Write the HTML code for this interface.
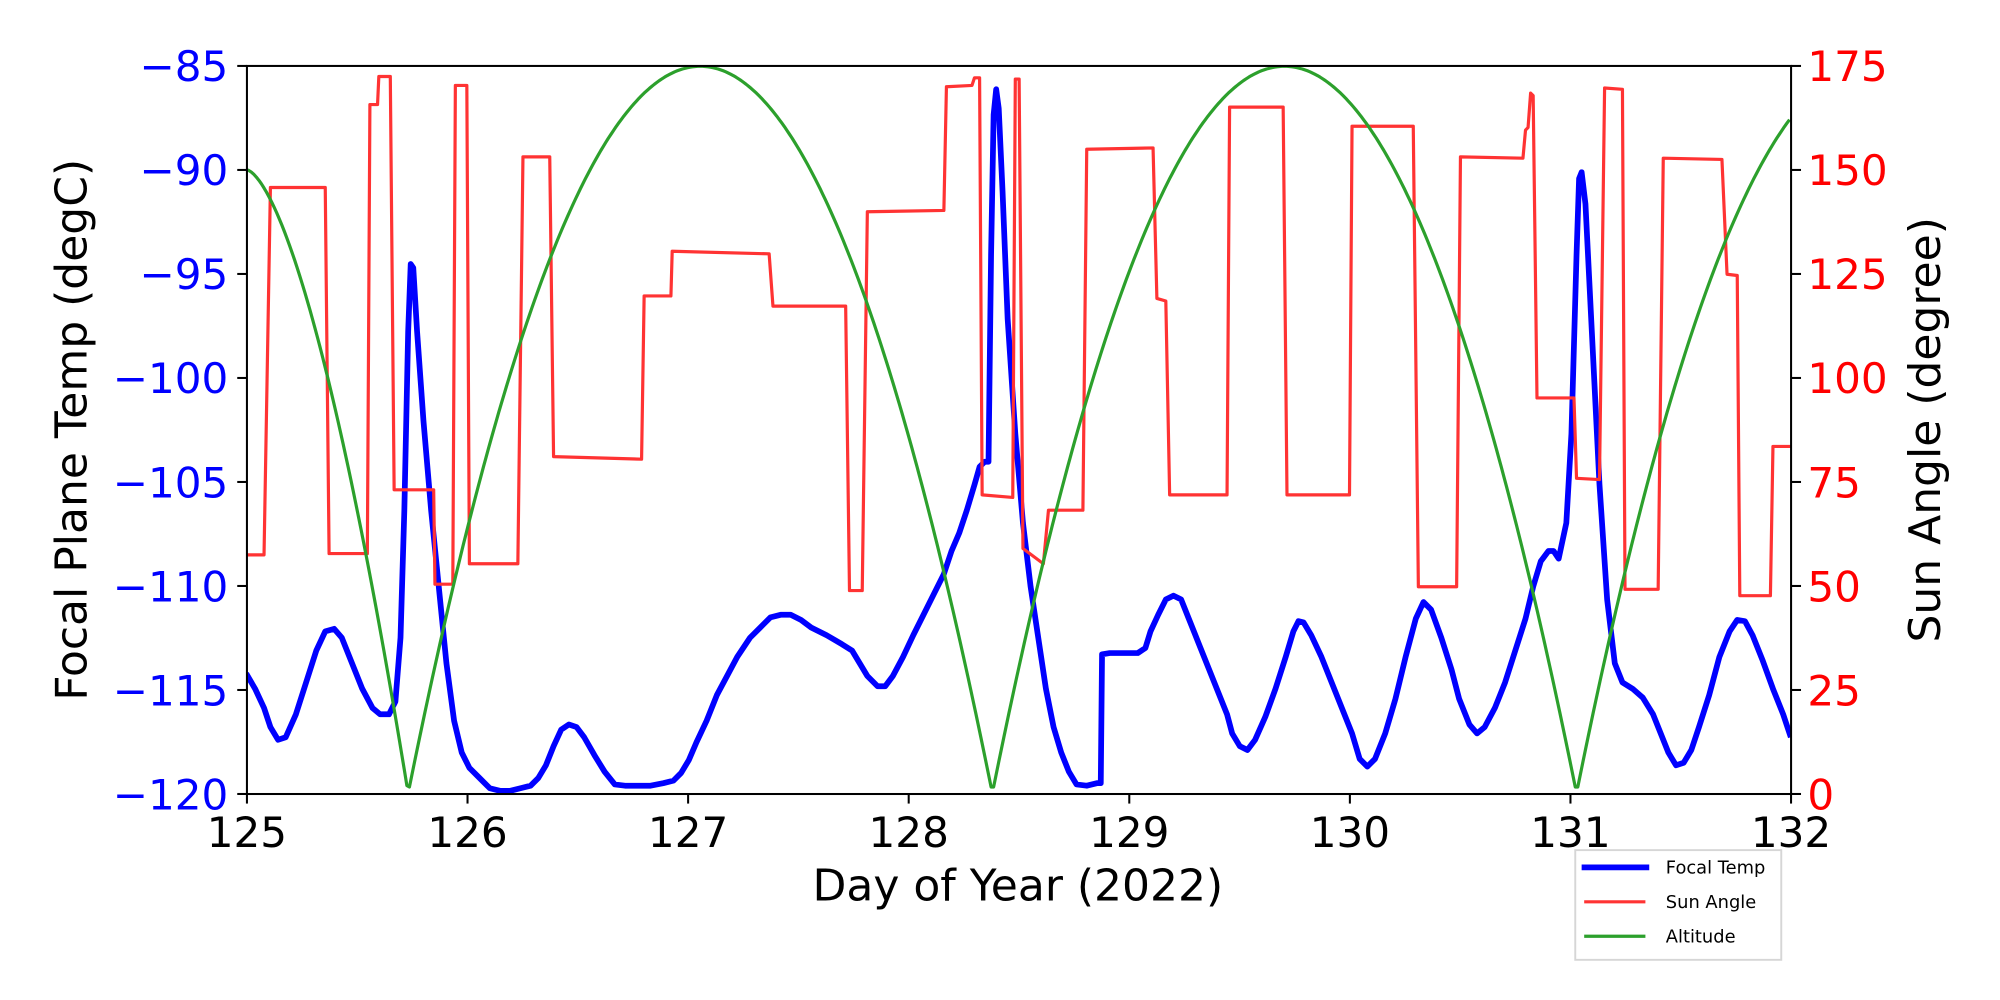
<!DOCTYPE html>
<html><head><meta charset="utf-8"><style>html,body{margin:0;padding:0;background:#fff}svg{display:block}</style></head>
<body>
<svg id="s" width="2000" height="1000" viewBox="0 0 1568 784" xmlns="http://www.w3.org/2000/svg" font-family="DejaVu Sans, Liberation Sans, sans-serif">
<defs><clipPath id="c"><rect x="193.6" y="51.7" width="1210.6" height="570.8"/></clipPath></defs>
<g clip-path="url(#c)" fill="none" stroke-linejoin="round">
<polyline stroke="#0000ff" stroke-width="4.5" points="193,528 200,540 207,555 212,570 218,580 224,578 232,560 240,535 248,510 255,495 262,493 268,500 276,520 284,540 292,555 298,560 305,560 310,550 314,500 317,400 320,260 322,207 324,210 327,260 332,330 338,400 344,460 350,520 356,565 362,590 368,602 376,610 384,618 392,620 400,620 408,618 416,616 422,610 428,600 434,585 440,572 446,568 452,570 458,578 466,592 474,605 482,615 490,616 500,616 510,616 520,614 528,612 534,606 540,596 546,582 554,565 562,545 570,530 578,515 588,500 598,490 604,484 612,482 620,482 628,486 636,492 648,498 660,505 668,510 674,520 680,530 688,538 694,538 700,530 708,515 716,498 724,482 732,466 740,450 746,432 752,418 758,400 764,380 768,366 772,362 775,362 777,200 779,90 781,70 783,85 786,150 790,250 796,340 802,410 808,460 814,500 820,540 826,570 832,590 838,605 844,615 852,616 860,614 863,614 864,513 870,512 880,512 892,512 898,508 902,495 908,482 914,470 920,467 926,470 932,485 940,505 948,525 956,545 962,560 966,575 972,585 978,588 984,580 992,562 1000,540 1008,515 1014,495 1018,487 1022,488 1028,498 1036,515 1044,535 1052,555 1060,575 1066,595 1072,601 1078,595 1086,575 1094,548 1102,515 1110,485 1116,472 1122,478 1130,500 1138,525 1144,548 1152,568 1158,575 1164,570 1172,555 1180,535 1188,510 1196,485 1202,460 1208,440 1214,432 1218,432 1222,438 1228,410 1232,340 1236,200 1238,140 1240,135 1243,160 1248,260 1254,380 1260,470 1266,520 1272,535 1280,540 1288,547 1296,560 1302,575 1308,590 1314,600 1320,598 1326,588 1332,570 1340,545 1348,515 1356,495 1362,486 1368,487 1374,498 1382,518 1390,540 1398,560 1404,578"/>
<polyline stroke="#ff3333" stroke-width="2.5" points="193,435 207,435 212,147 255,147 258,434 288,434 290,82 296,82 297,60 306,60 309,384 340,384 341,458 355,458 357,67 366,67 368,442 406,442 410,123 431,123 434,358 503,360 505,232 526,232 527,197 603,199 606,240 663,240 666,463 676,463 680,166 740,165 742,68 762,67 764,61 768,61 770,388 794,390 796,62 799,62 802,430 818,442 822,400 849,400 852,117 904,116 907,234 914,236 917,388 962,388 964,84 1006,84 1009,388 1058,388 1060,99 1108,99 1112,460 1142,460 1145,123 1194,124 1196,102 1198,100 1200,73 1202,75 1205,312 1234,312 1236,375 1254,376 1258,69 1272,70 1274,462 1300,462 1304,124 1350,125 1354,215 1362,216 1364,467 1388,467 1390,350 1404,350"/>
<polyline id="g" stroke="#2ca02c" stroke-width="2.5" points=""/>
</g>
<rect x="193.6" y="51.7" width="1210.6" height="570.8" fill="none" stroke="#000" stroke-width="1.6"/>
<g id="ticks" stroke="#000" stroke-width="1.6"></g>
<g id="lab" font-size="33"></g>
<text x="798" y="706" font-size="34.5" text-anchor="middle">Day of Year (2022)</text>
<text transform="translate(68,337) rotate(-90)" font-size="34.5" text-anchor="middle">Focal Plane Temp (degC)</text>
<text transform="translate(1521,337) rotate(-90)" font-size="34.5" text-anchor="middle">Sun Angle (degree)</text>
<rect x="1235" y="666.5" width="161.5" height="86" fill="#fff" stroke="#d6d6d6" stroke-width="1.5"/>
<line x1="1240" y1="680" x2="1293" y2="680" stroke="#0000ff" stroke-width="4.5"/>
<line x1="1242" y1="707" x2="1290" y2="707" stroke="#ff3333" stroke-width="2.5"/>
<line x1="1242" y1="734" x2="1290" y2="734" stroke="#2ca02c" stroke-width="2.5"/>
<text x="1306" y="685" font-size="14">Focal Temp</text>
<text x="1306" y="712" font-size="14">Sun Angle</text>
<text x="1306" y="739" font-size="14">Altitude</text>
</svg>
<script>
var ns="http://www.w3.org/2000/svg";
function el(p,t,a,txt){var e=document.createElementNS(ns,t);for(var k in a)e.setAttribute(k,a[k]);if(txt!=null)e.textContent=txt;p.appendChild(e);}
var T=document.getElementById('ticks'),L=document.getElementById('lab');
for(var d=125;d<=132;d++){var x=193.6+(d-125)*172.94;el(T,'line',{x1:x,y1:622.5,x2:x,y2:630});el(L,'text',{x:x,y:664,'text-anchor':'middle'},d);}
for(var i=0;i<8;i++){var y=51.7+i*81.54;el(T,'line',{x1:186,y1:y,x2:193.6,y2:y});el(L,'text',{x:179,y:y+12,'text-anchor':'end',fill:'#0000ff'},'\u2212'+(85+5*i));
var v=175-25*i;el(T,'line',{x1:1404.2,y1:y,x2:1412,y2:y});el(L,'text',{x:1417,y:y+12,fill:'#ff0000'},v);}
var pts=[];
for(var x=193;x<=1404;x+=2){var y;
if(x<320){var f=(320-x)/127;y=622-489*(1-Math.pow(1-f,1.6));}
else{var z0,z1;if(x<778){z0=320;z1=778;}else if(x<1236){z0=778;z1=1236;}else{z0=1236;z1=1694;}
var m=(z0+z1)/2,h=(z1-z0)/2,u=(x-m)/h;y=622-570*(1-u*u);}
pts.push(x+','+y.toFixed(1));}
document.getElementById('g').setAttribute('points',pts.join(' '));
</script>
</body></html>
